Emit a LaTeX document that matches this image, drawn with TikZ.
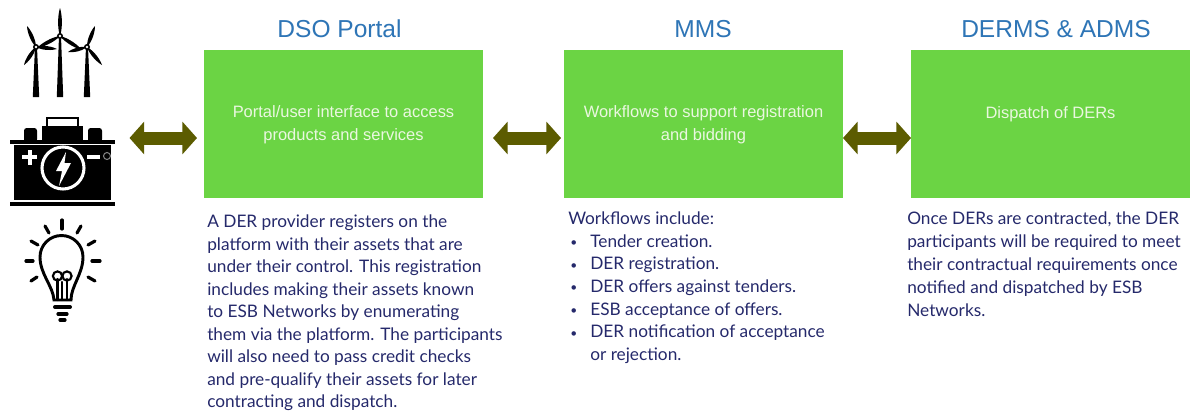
\documentclass[tikz,border=0pt]{standalone}
\usepackage{fontspec}
\setmainfont{Lato}
\newfontfamily\arialf{Liberation Sans}
\usetikzlibrary{arrows.meta}
\definecolor{boxgreen}{HTML}{6BD444}
\definecolor{arrowolive}{HTML}{5C5C00}
\definecolor{titleblue}{HTML}{2E75B6}
\definecolor{bodynavy}{HTML}{25296B}
\definecolor{boxtext}{HTML}{EAF7E0}
\newcommand{\bul}{\makebox[16.5pt][l]{\hspace*{1.5pt}\fontsize{9pt}{9pt}\selectfont\raisebox{0.6pt}{•}}}
\newcommand{\boxln}[1]{\smash{\raisebox{-3.6pt}{#1}}}
\tikzset{
  x=0.75pt,y=-0.75pt,
  greenbox/.style={draw=none,fill=boxgreen,minimum width=209.25pt,minimum height=111pt,inner sep=0pt,outer sep=0pt,
    text=boxtext,align=center,font=\arialf\fontsize{12.35pt}{17pt}\selectfont},
  boxtitle/.style={text=titleblue,inner sep=0pt,font=\arialf\fontsize{18.4pt}{22pt}\selectfont},
  bodytext/.style={text=bodynavy,inner sep=0pt,align=left,anchor=north west,font=\fontsize{12.95pt}{16.85pt}\selectfont},
  dblarrow/.style={draw=arrowolive,line width=9.75pt,{Triangle[width=24pt,length=11pt]}-{Triangle[width=24pt,length=11pt]}},
  iconink/.style={fill=black,draw=none},
  bulbline/.style={draw=black,line width=2.2pt,line cap=round,fill=none},
}
\begin{document}
\begin{tikzpicture}
\useasboundingbox (0,0) rectangle (1202,414);
\fill[white] (0,0) rectangle (1202,414);
% boxes
\node[greenbox] (dso) at (343.5,124) {\boxln{Portal/user interface to access}\\\boxln{products and services}};
\node[greenbox] (mms) at (703.5,124) {\boxln{Workflows to support registration}\\\boxln{and bidding}};
\node[greenbox] (derms) at (1050.5,124) {\smash{\raisebox{4.25pt}{Dispatch of DERs}}};
% titles
\node[boxtitle] (t1) at (339.5,29) {DSO Portal};
\node[boxtitle] (t2) at (703,29) {MMS};
\node[boxtitle] (t3) at (1056,29) {DERMS \& ADMS};
% body
\node[bodytext] (p1) at (207,215) {A DER provider registers on the\\platform with their assets that are\\under their control. This registration\\includes making their assets known\\to ESB Networks by enumerating\\them via the platform. The participants\\will also need to pass credit checks\\and pre-qualify their assets for later\\contracting and dispatch.};
\node[bodytext,font=\fontsize{12.95pt}{17pt}\selectfont] (p2) at (568,211.5) {Workflows include:\\\bul Tender creation.\\\bul DER registration.\\\bul DER offers against tenders.\\\bul ESB acceptance of offers.\\\bul DER notification of acceptance\\\hspace*{16.5pt}or rejection.};
\node[bodytext,font=\fontsize{12.95pt}{17.25pt}\selectfont] (p3) at (907,211.5) {Once DERs are contracted, the DER\\participants will be required to meet\\their contractual requirements once\\notified and dispatched by ESB\\Networks.};
% battery anchor node
\node[minimum width=78pt,minimum height=67.5pt,inner sep=0pt,outer sep=0pt] (bat) at (62.5,161) {};
% connectors
\coordinate (a1) at ([yshift=-10.5pt]dso.west);
\draw[dblarrow,shorten <=11.25pt,shorten >=5.25pt] (bat.east |- a1) -- (a1);
\draw[dblarrow,shorten <=7.5pt,shorten >=2.25pt] ([yshift=-10.5pt]dso.east) -- ([yshift=-10.5pt]mms.west);
\draw[dblarrow] ([yshift=-10.5pt]mms.east) -- ([yshift=-10.5pt]derms.west);
% wind turbines
\foreach \hx/\hy/\base/\ax/\ay/\bx/\by/\cx/\cy in {36/47/97/27/26/24/65/57/49, 87/47/97/95/26/102/65/68/52, 60/36/97/60/8/37/48/82/50}{
  \fill[iconink] (\hx-1,\hy) -- (\hx+1,\hy) -- (\hx+3.2,\base) -- (\hx-3.2,\base) -- cycle;
  \foreach \tx/\ty in {\ax/\ay,\bx/\by,\cx/\cy}{
    \pgfmathsetmacro{\dl}{veclen(\tx-\hx,\ty-\hy)}
    \pgfmathsetmacro{\nx}{-(\ty-\hy)/\dl}
    \pgfmathsetmacro{\ny}{(\tx-\hx)/\dl}
    \fill[iconink] (\hx,\hy) .. controls ({\hx+0.35*(\tx-\hx)+3.2*\nx},{\hy+0.35*(\ty-\hy)+3.2*\ny}) and ({\hx+0.8*(\tx-\hx)+1.8*\nx},{\hy+0.8*(\ty-\hy)+1.8*\ny}) .. (\tx,\ty)
      .. controls ({\hx+0.8*(\tx-\hx)-1.8*\nx},{\hy+0.8*(\ty-\hy)-1.8*\ny}) and ({\hx+0.35*(\tx-\hx)-3.2*\nx},{\hy+0.35*(\ty-\hy)-3.2*\ny}) .. (\hx,\hy) -- cycle;
  }
  \fill[black] (\hx,\hy) circle (3);
  \fill[white] (\hx,\hy) circle (1.3);
}
% battery
\draw[black,line width=2pt] (47,118) rectangle (78,128);
\fill[iconink] (42,126) rectangle (83,141);
\fill[iconink,rounded corners=2pt] (24,128) rectangle (37,142);
\fill[iconink,rounded corners=2pt] (88,128) rectangle (102,142);
\fill[iconink] (10,140) rectangle (115,143.5);
\fill[iconink] (14,145) rectangle (111,200);
\fill[iconink] (10,202) rectangle (115,206);
\fill[white] (22,155) rectangle (37,159);
\fill[white] (27.5,149.5) rectangle (31.5,164.5);
\fill[white] (87,154.5) rectangle (100,158.5);
\draw[gray,line width=0.8pt] (107,156) circle (3.5);
\draw[white,line width=2.3pt] (63,168) circle (21);
\fill[white] (66,152) -- (56,171) -- (62,171) -- (59,186) -- (71,163) -- (64.5,163) -- cycle;
% bulb
\draw[bulbline] (54,300) .. controls (53,286) and (40,274) .. (40,257) arc[start angle=180,end angle=360,radius=21.5] .. controls (83,274) and (71,286) .. (71,300) -- cycle;
\draw[bulbline,line width=1.6pt] (57.5,300) -- (57.5,279);
\draw[bulbline,line width=1.6pt] (67,300) -- (67,279);
\draw[bulbline,line width=1.6pt] (62.3,282) -- (62.3,300);
\draw[bulbline,line width=1.6pt] (57.5,276) circle (4.6);
\draw[bulbline,line width=1.6pt] (67,276) circle (4.6);
\draw[bulbline,line width=3pt] (55,307) -- (70,307);
\draw[bulbline,line width=2.4pt] (58,314) -- (67,314);
\draw[bulbline,line width=2.4pt] (60,320) -- (65,320);
\foreach \ax/\ay/\bx/\by in {62/220/62/229, 45/226/49/233, 81/226/77/233, 31/241/38/245, 95/241/88/245, 26/261/33/261, 100/261/92/261, 31/281/37/277, 95/281/88/277}{
  \draw[bulbline,line width=2.4pt] (\ax,\ay) -- (\bx,\by);
}
\end{tikzpicture}
\end{document}
